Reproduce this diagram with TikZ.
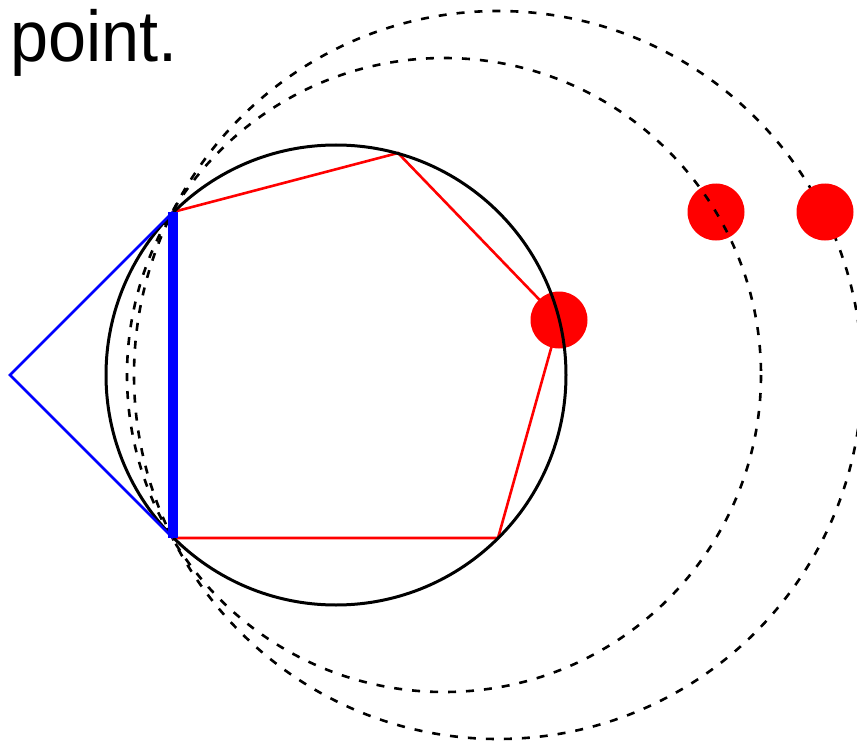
\documentclass[tikz,border=0pt]{standalone}
\usepackage{fontspec}
\setmainfont{Liberation Sans}
\begin{document}
\begin{tikzpicture}[x=1pt,y=-1pt,
  dashcirc/.style={black,line width=2.6pt,dash pattern=on 8pt off 10pt},
  poly/.style={red,line width=2.6pt,line join=miter},
  dot/.style={circle,fill=red,draw=none,minimum size=57pt,inner sep=0pt},
  tri/.style={blue,line width=2.6pt},
  edge/.style={blue,line width=10pt},
  circ/.style={black,line width=3pt}]
\useasboundingbox (0,0) rectangle (857,741);
\coordinate (O) at (336,375);
\coordinate (B) at (173,212);
\coordinate (C) at (173,538);
\coordinate (D) at (498,538);
\coordinate (E) at (559,320);
\coordinate (F) at (398,153);
\coordinate (T) at (10,375);
\coordinate (P1) at (444,375);
\coordinate (P2) at (498,375);
% dots and dashed circles
\node[dot] (d1) at (716,212) {};
\draw[dashcirc] (P1) circle (317);
\draw[dashcirc] (P2) circle (364);
\node[dot] (d2) at (825,212) {};
% pentagon
\draw[poly] (B) -- (F) -- (E) -- (D) -- (C) -- cycle;
\node[dot] (d3) at (E) {};
\draw[circ] (O) circle (230);
% blue
\draw[tri] (B) -- (T) -- (C);
\draw[edge] (B) -- (C);
\node[anchor=base west,inner sep=0pt,font=\fontsize{72}{72}\selectfont,xscale=0.95] (lbl) at (10,62) {point.};
\end{tikzpicture}
\end{document}
